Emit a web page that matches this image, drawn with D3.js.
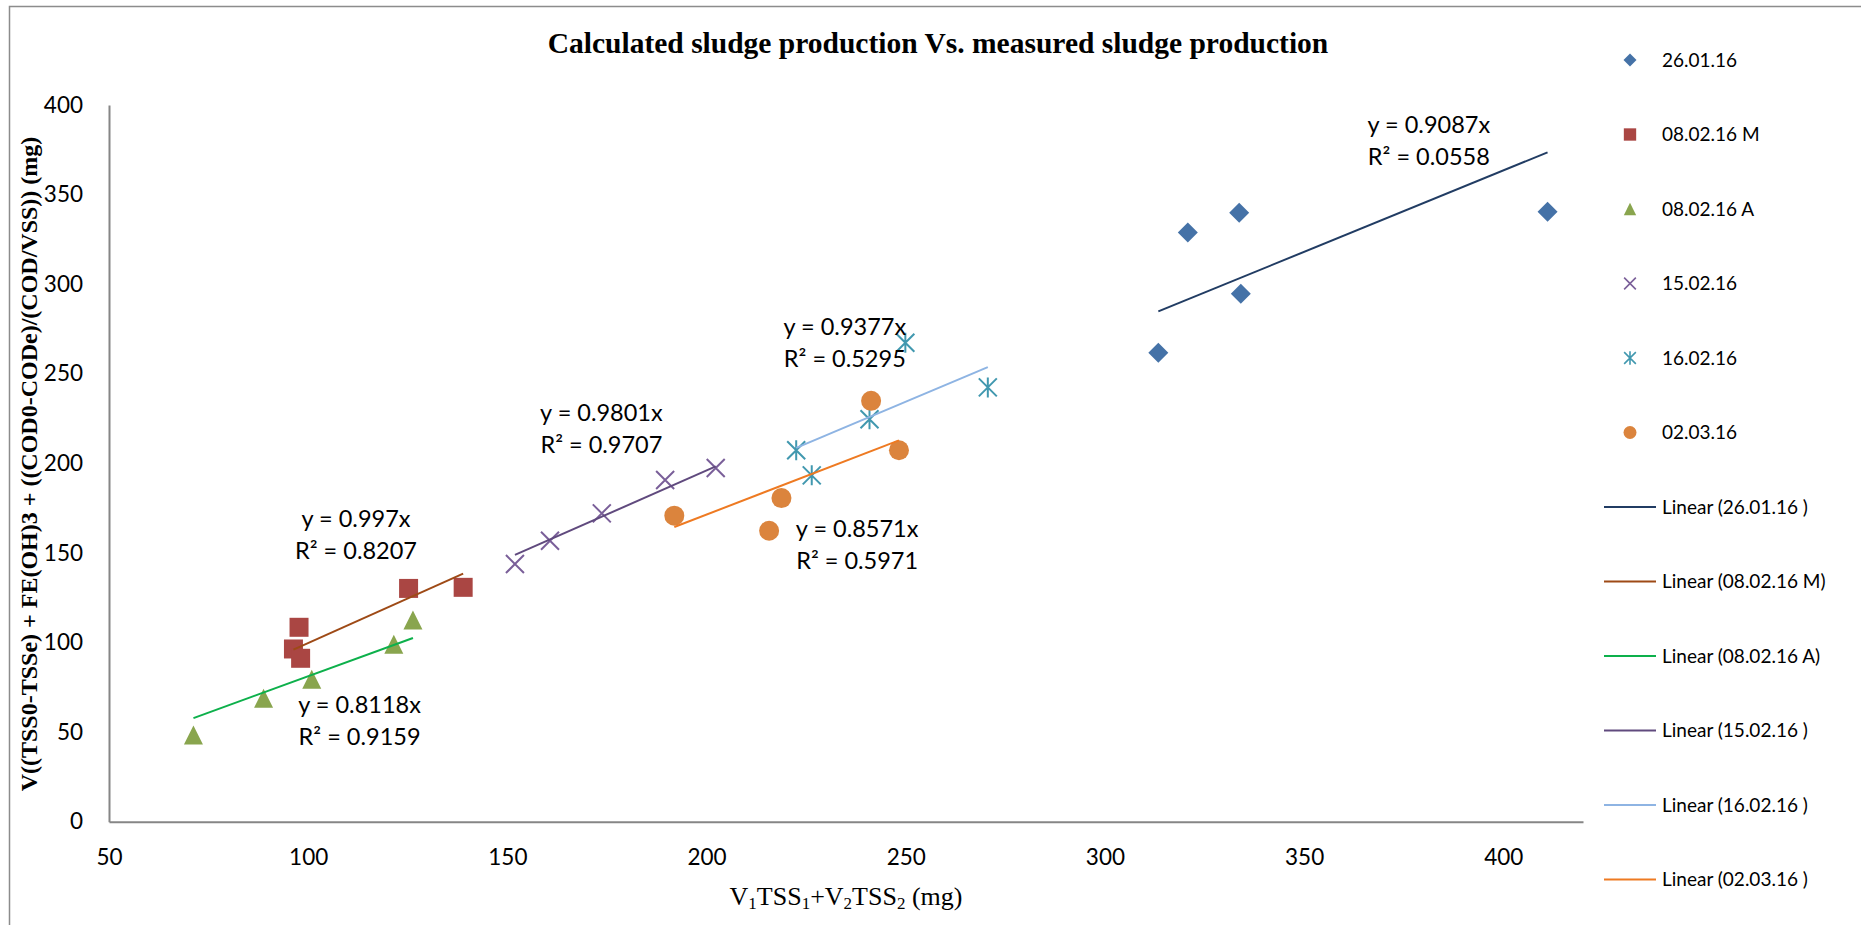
<!DOCTYPE html>
<html>
<head>
<meta charset="utf-8">
<script src="https://cdnjs.cloudflare.com/ajax/libs/d3/7.8.5/d3.min.js"></script>
<style>
  body { margin: 0; background: #fff; }
  svg { display: block; }
</style>
</head>
<body>
<script>
// series names (some carry a trailing space, as in the sheet)
var seriesNames = ["26.01.16 ", "08.02.16 M", "08.02.16 A", "15.02.16 ", "16.02.16 ", "02.03.16 "];

// measured sludge: V1TSS1+V2TSS2 (mg)
var measured2601 = [313.4, 320.8, 333.7, 334.1, 411.1];
var measured0802M = [96.3, 97.7, 98.1, 125.2, 138.9];
var measured0802A = [71.2, 88.8, 100.9, 121.5, 126.3];
var measured1502 = [151.9, 160.7, 173.7, 189.6, 202.3];
var measured1602 = [222.5, 226.4, 240.9, 249.9, 270.6];
var measured0203 = [191.9, 215.7, 218.8, 241.3, 248.3];

// calculated sludge (mg)
var calc2601 = [261.7, 328.9, 339.8, 294.6, 340.4];
var calc0802M = [96.4, 108.5, 91.2, 130.2, 130.8];
var calc0802A = [48.4, 68.9, 79.5, 99.0, 112.6];
var calc1502 = [143.8, 156.8, 172.1, 190.7, 197.4];
var calc1602 = [207.3, 193.3, 224.6, 267.3, 242.4];
var calc0203 = [170.8, 162.4, 180.6, 234.9, 207.3];

// linear trendlines through the origin
var slopes = [0.9087, 0.997, 0.8118, 0.9801, 0.9377, 0.8571];
var rSquared = [0.0558, 0.8207, 0.9159, 0.9707, 0.5295, 0.5971];

// axis ticks
var xTicks = [50, 100, 150, 200, 250, 300, 350, 400];
var yTicks = [0, 50, 100, 150, 200, 250, 300, 350, 400];

var measured = [measured2601, measured0802M, measured0802A, measured1502, measured1602, measured0203];
var calculated = [calc2601, calc0802M, calc0802A, calc1502, calc1602, calc0203];

// styles
var markerTypes = ["diamond", "square", "triangle", "x", "star", "circle"];
var markerColors = ["#4572A7", "#AA4643", "#89A54E", "#7A5F99", "#4198AF", "#DB843D"];
var trendColors = ["#213C63", "#9E4A16", "#0DB04B", "#604A7E", "#8EB4E3", "#EE7A22"];
// where each equation box sits (data units: centre x, first baseline y)
var labelAt = [[381.3, 384.3], [112.0, 164.6], [112.9, 60.5], [173.6, 223.8], [234.7, 271.6], [237.8, 158.7]];

var width = 1861, height = 925;
var labelFont = "Lato, 'Open Sans', sans-serif";

var svg = d3.select("body").append("svg")
    .attr("width", width)
    .attr("height", height);

// chart frame (only top and left edges show)
svg.append("rect")
    .attr("x", 9.5).attr("y", 6.5)
    .attr("width", 3000).attr("height", 3000)
    .attr("fill", "none")
    .attr("stroke", "#8c8c8c")
    .attr("stroke-width", 1.5);

var xScale = d3.scaleLinear().domain([50, 420]).range([109, 1583]);
var yScale = d3.scaleLinear().domain([0, 400]).range([821.7, 105]);

// axes
var xAxis = d3.axisBottom(xScale).tickValues(xTicks).tickSize(0).tickPadding(27).tickSizeOuter(0);
var yAxis = d3.axisLeft(yScale).tickValues(yTicks).tickSize(0).tickPadding(26).tickSizeOuter(0);

var gx = svg.append("g")
    .attr("transform", "translate(0," + yScale(0) + ")")
    .call(xAxis);
var gy = svg.append("g")
    .attr("transform", "translate(" + xScale(50) + ",0)")
    .call(yAxis);

[gx, gy].forEach(function(g) {
  g.select(".domain").attr("stroke", "#868686").attr("stroke-width", 2);
  g.selectAll("text")
      .attr("fill", "#000")
      .style("font-family", labelFont)
      .style("font-size", "22.5px");
});

// marker shapes centred on 0,0
function markerPath(type, r) {
  switch (type) {
    case "diamond":
      return "M0," + (-r) + "L" + r + ",0L0," + r + "L" + (-r) + ",0Z";
    case "square":
      return "M" + (-r) + "," + (-r) + "H" + r + "V" + r + "H" + (-r) + "Z";
    case "triangle":
      return "M0," + (-r) + "L" + r + "," + r + "L" + (-r) + "," + r + "Z";
    case "circle":
      return "M" + r + ",0A" + r + "," + r + " 0 1,1 " + (-r) + ",0A" + r + "," + r + " 0 1,1 " + r + ",0Z";
    case "x":
      return "M" + (-r) + "," + (-r) + "L" + r + "," + r + "M" + r + "," + (-r) + "L" + (-r) + "," + r;
    case "star":
      return "M" + (-r) + "," + (-r) + "L" + r + "," + r + "M" + r + "," + (-r) + "L" + (-r) + "," + r +
             "M0," + (-r - 1) + "L0," + (r + 1);
  }
}
var markerRadius = {diamond: 10, square: 9.5, triangle: 9.5, circle: 10, x: 9, star: 9};

function styleMarker(sel, i) {
  var open = markerTypes[i] === "x" || markerTypes[i] === "star";
  sel.attr("fill", open ? "none" : markerColors[i])
     .attr("stroke", open ? markerColors[i] : "none")
     .attr("stroke-width", open ? 2 : 0);
}

// points
seriesNames.forEach(function(name, i) {
  var pts = measured[i].map(function(x, j) { return [x, calculated[i][j]]; });
  var g = svg.append("g").attr("class", "series");
  g.selectAll("path")
      .data(pts)
      .enter()
      .append("path")
      .attr("transform", function(d) { return "translate(" + xScale(d[0]) + "," + yScale(d[1]) + ")"; })
      .attr("d", markerPath(markerTypes[i], markerRadius[markerTypes[i]]))
      .call(styleMarker, i);
});

// trendlines y = slope * x across each series' x range
seriesNames.forEach(function(name, i) {
  var ext = d3.extent(measured[i]);
  var line = d3.line()
      .x(function(d) { return xScale(d); })
      .y(function(d) { return yScale(slopes[i] * d); });
  svg.append("path")
      .datum(ext)
      .attr("d", line)
      .attr("fill", "none")
      .attr("stroke", trendColors[i])
      .attr("stroke-width", 2);
});

// equation labels
seriesNames.forEach(function(name, i) {
  var t = svg.append("text")
      .attr("x", xScale(labelAt[i][0]))
      .attr("y", yScale(labelAt[i][1]))
      .attr("text-anchor", "middle")
      .style("font-family", labelFont)
      .style("font-size", "23.5px")
      .attr("fill", "#000");
  t.append("tspan").text("y = " + slopes[i] + "x");
  t.append("tspan")
      .attr("x", xScale(labelAt[i][0]))
      .attr("dy", 32)
      .text("R\u00B2 = " + rSquared[i].toFixed(4));
});

// title
svg.append("text")
    .attr("x", 938)
    .attr("y", 53)
    .attr("text-anchor", "middle")
    .style("font-family", "'Liberation Serif', 'Times New Roman', serif")
    .style("font-weight", "bold")
    .style("font-size", "29.5px")
    .text("Calculated sludge production Vs. measured sludge production");

// x axis title with subscripts
var xt = svg.append("text")
    .attr("x", 846)
    .attr("y", 905)
    .attr("text-anchor", "middle")
    .style("font-family", "'Liberation Serif', 'Times New Roman', serif")
    .style("font-size", "26px");
[["V", 0], ["1", 1], ["TSS", 0], ["1", 1], ["+V", 0], ["2", 1], ["TSS", 0], ["2", 1], [" (mg)", 0]].forEach(function(p) {
  xt.append("tspan")
      .attr("baseline-shift", p[1] ? "-22%" : null)
      .style("font-size", p[1] ? "17px" : null)
      .text(p[0]);
});

// y axis title
svg.append("text")
    .attr("transform", "translate(37,464) rotate(-90)")
    .attr("text-anchor", "middle")
    .style("font-family", "'Liberation Serif', 'Times New Roman', serif")
    .style("font-weight", "bold")
    .style("font-size", "24px")
    .text("V((TSS0-TSSe) + FE(OH)3 + ((COD0-CODe)/(COD/VSS)) (mg)");

// legend: markers first, then trendlines
var legendX = 1630, legendTop = 60, legendStep = 74.5;
var legend = svg.append("g").style("font-family", labelFont).style("font-size", "19px");

seriesNames.forEach(function(name, i) {
  var yy = legendTop + i * legendStep;
  legend.append("path")
      .attr("transform", "translate(" + legendX + "," + yy + ")")
      .attr("d", markerPath(markerTypes[i], markerRadius[markerTypes[i]] * 0.65))
      .call(styleMarker, i)
      .attr("stroke-width", markerTypes[i] === "x" || markerTypes[i] === "star" ? 1.6 : 0);
  legend.append("text")
      .attr("x", 1662).attr("y", yy)
      .attr("dy", "0.36em")
      .text(name.trim());
});

seriesNames.forEach(function(name, i) {
  var yy = legendTop + (i + seriesNames.length) * legendStep;
  legend.append("line")
      .attr("x1", 1604).attr("x2", 1656)
      .attr("y1", yy).attr("y2", yy)
      .attr("stroke", trendColors[i])
      .attr("stroke-width", 2);
  legend.append("text")
      .attr("x", 1662).attr("y", yy)
      .attr("dy", "0.36em")
      .text("Linear (" + name + ")");
});
</script>
</body>
</html>
